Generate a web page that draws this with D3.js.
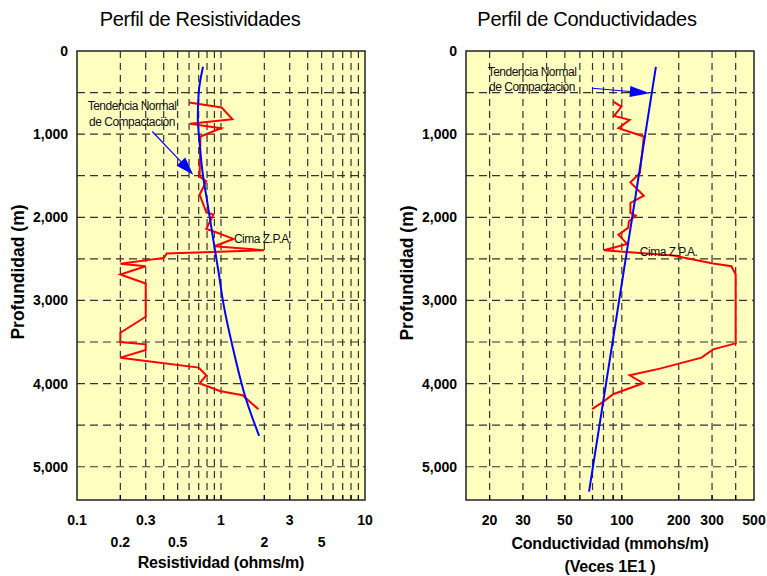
<!DOCTYPE html>
<html>
<head>
<meta charset="utf-8">
<script src="https://cdn.jsdelivr.net/npm/d3@7"></script>
<style>
  html, body { margin: 0; padding: 0; background: #ffffff; }
  svg { display: block; font-family: "Liberation Sans", Arial, sans-serif; }
</style>
</head>
<body>
<svg id="chart" width="767" height="576"></svg>
<script>
// ---- Resistivity log (depth in m, ohms/m) ----
const resDepth = [620, 680, 820, 876, 928, 1028, 1508, 1568, 1728, 1940, 1968, 2140, 2168, 2260, 2348, 2396, 2436, 2488, 2560, 2588, 2688, 2796, 3196, 3388, 3500, 3528, 3596, 3688, 3808, 3900, 3996, 4088, 4140, 4308];
const resValue = [0.60, 1.01, 1.20, 0.61, 1.00, 0.72, 0.71, 0.79, 0.71, 0.79, 0.885, 0.79, 0.885, 1.22, 0.90, 1.99, 0.42, 0.40, 0.20, 0.30, 0.20, 0.30, 0.30, 0.20, 0.20, 0.30, 0.30, 0.20, 0.70, 0.79, 0.71, 0.98, 1.41, 1.82];

// Normal compaction trend for resistivity
const resTrendDepth = [190, 500, 800, 1100, 1500, 1800, 2300, 2700, 3000, 3600, 4200, 4630];
const resTrendValue = [0.75, 0.70, 0.69, 0.71, 0.75, 0.80, 0.89, 0.97, 1.03, 1.22, 1.50, 1.84];

// ---- Conductivity log (depth in m, mmohs/m x 1E1) ----
const condDepth = [608, 668, 780, 828, 928, 1028, 1188, 1468, 1508, 1580, 1740, 1828, 1948, 1980, 2048, 2128, 2208, 2320, 2396, 2460, 2556, 2588, 2688, 3516, 3588, 3688, 3820, 3900, 3996, 4128, 4220, 4308];
const condValue = [90, 99.6, 91, 110, 96, 130.7, 128.6, 124.5, 119.6, 111, 130.7, 111, 111, 118.6, 109, 108, 96, 106.7, 80.3, 186.6, 304, 380, 400, 400, 304, 264, 159, 110, 129.7, 90, 79.6, 69.6];

// Normal compaction trend for conductivity
const condTrendDepth = [190, 5300];
const condTrendValue = [151.4, 67.1];

// ---- Axis ticks and labels ----
const depthLabels = [0, 1000, 2000, 3000, 4000, 5000];
const depthGrid = [500, 1000, 1500, 2000, 2500, 3000, 3500, 4000, 4500, 5000];
const resGrid = [0.2, 0.3, 0.4, 0.5, 0.6, 0.7, 0.8, 0.9, 1, 2, 3, 4, 5, 6, 7, 8, 9];
const resLabelsRow1 = [0.1, 0.3, 1, 3, 10];
const resLabelsRow2 = [0.2, 0.5, 2, 5];
const condGrid = [20, 30, 40, 50, 60, 70, 80, 90, 100, 200, 300, 400];
const condLabels = [20, 30, 50, 100, 200, 300, 500];

const svg = d3.select("#chart");
const fmtDepth = d3.format(",");

function drawPanel(p) {
  const g = svg.append("g");
  const x = d3.scaleLog().domain(p.xDomain).range([p.left, p.right]);
  const y = d3.scaleLinear().domain([0, 5400]).range([p.top, p.bottom]);

  // plot background
  g.append("rect")
    .attr("x", p.left).attr("y", p.top)
    .attr("width", p.right - p.left).attr("height", p.bottom - p.top)
    .attr("fill", "#ffffc0");

  // dashed grid
  g.append("g").selectAll("line").data(p.xGrid).join("line")
    .attr("x1", d => x(d)).attr("x2", d => x(d))
    .attr("y1", p.top).attr("y2", p.bottom)
    .attr("stroke", "#333").attr("stroke-width", 1.2)
    .attr("stroke-dasharray", "7,5");
  g.append("g").selectAll("line").data(depthGrid).join("line")
    .attr("x1", p.left).attr("x2", p.right)
    .attr("y1", d => y(d)).attr("y2", d => y(d))
    .attr("stroke", "#333").attr("stroke-width", 1.2)
    .attr("stroke-dasharray", "8,5");

  // bottom tick marks (inward)
  g.append("g").selectAll("line").data(p.xGrid).join("line")
    .attr("x1", d => x(d)).attr("x2", d => x(d))
    .attr("y1", p.bottom).attr("y2", p.bottom - 5)
    .attr("stroke", "#000").attr("stroke-width", 1.2);

  // curves
  const line = d3.line().x(d => x(d[1])).y(d => y(d[0]));
  const smooth = d3.line().x(d => x(d[1])).y(d => y(d[0])).curve(d3.curveMonotoneY);

  g.append("path")
    .datum(d3.zip(p.logDepth, p.logValue))
    .attr("d", line)
    .attr("fill", "none").attr("stroke", "#ff0000").attr("stroke-width", 2)
    .attr("stroke-linejoin", "miter");

  g.append("path")
    .datum(d3.zip(p.trendDepth, p.trendValue))
    .attr("d", smooth)
    .attr("fill", "none").attr("stroke", "#0000ff").attr("stroke-width", 2);

  // frame
  g.append("rect")
    .attr("x", p.left).attr("y", p.top)
    .attr("width", p.right - p.left).attr("height", p.bottom - p.top)
    .attr("fill", "none").attr("stroke", "#222").attr("stroke-width", 1.5);

  // depth labels
  g.append("g").selectAll("text").data(depthLabels).join("text")
    .attr("x", p.left - 9).attr("y", d => y(d) + 5)
    .attr("text-anchor", "end")
    .attr("font-size", 14).attr("font-weight", "bold")
    .text(d => fmtDepth(d));

  // depth title
  g.append("text")
    .attr("transform", `translate(${p.yTitleX},${p.yTitleY}) rotate(-90)`)
    .attr("text-anchor", "middle")
    .attr("font-size", 17.5).attr("font-weight", "bold")
    .text("Profundidad (m)");

  // panel title
  g.append("text")
    .attr("x", p.titleX).attr("y", 26)
    .attr("text-anchor", "middle")
    .attr("font-size", 20)
    .attr("letter-spacing", -0.3)
    .text(p.title);

  // annotation: normal trend
  const ann = g.append("g").attr("font-size", 12).attr("letter-spacing", -0.5).attr("fill", "#111");
  ann.append("text").attr("x", x(p.annX)).attr("y", y(p.annD1))
    .attr("text-anchor", "middle").text("Tendencia Normal");
  ann.append("text").attr("x", x(p.annX)).attr("y", y(p.annD2))
    .attr("text-anchor", "middle").text("de Compactaciòn");

  const ax0 = x(p.arrowFrom[1]), ay0 = y(p.arrowFrom[0]);
  const ax1 = x(p.arrowTo[1]), ay1 = y(p.arrowTo[0]);
  const ang = Math.atan2(ay1 - ay0, ax1 - ax0);
  const hl = p.headLen, hw = p.headW / 2;
  const bx = ax1 - hl * Math.cos(ang), by = ay1 - hl * Math.sin(ang);
  g.append("line")
    .attr("x1", ax0).attr("y1", ay0).attr("x2", bx).attr("y2", by)
    .attr("stroke", "#0000ff").attr("stroke-width", 1.2);
  g.append("path")
    .attr("d", `M${ax1},${ay1}L${bx - hw * Math.sin(ang)},${by + hw * Math.cos(ang)}L${bx + hw * Math.sin(ang)},${by - hw * Math.cos(ang)}Z`)
    .attr("fill", "#0000ff");

  // annotation: top of abnormal pressure zone
  ann.append("text").attr("x", x(p.cimaX)).attr("y", y(p.cimaD))
    .text("Cima Z.P.A.");

  return { g, x, y };
}

// Left panel: resistivity
const left = drawPanel({
  left: 77, right: 365, top: 51, bottom: 500,
  xDomain: [0.1, 10], xGrid: resGrid,
  logDepth: resDepth, logValue: resValue,
  trendDepth: resTrendDepth, trendValue: resTrendValue,
  title: "Perfil de Resistividades", titleX: 200,
  yTitleX: 24, yTitleY: 272,
  annX: 0.241, annD1: 708, annD2: 900,
  arrowFrom: [968, 0.333], arrowTo: [1488, 0.642], headLen: 18, headW: 12,
  cimaX: 1.23, cimaD: 2304
});

const fmtRes = d => String(d);
left.g.append("g").selectAll("text").data(resLabelsRow1).join("text")
  .attr("x", d => left.x(d)).attr("y", 525)
  .attr("text-anchor", "middle").attr("font-size", 14).attr("font-weight", "bold")
  .text(fmtRes);
left.g.append("g").selectAll("text").data(resLabelsRow2).join("text")
  .attr("x", d => left.x(d)).attr("y", 547)
  .attr("text-anchor", "middle").attr("font-size", 14).attr("font-weight", "bold")
  .text(fmtRes);
left.g.append("text")
  .attr("x", 221).attr("y", 568)
  .attr("text-anchor", "middle").attr("font-size", 16).attr("font-weight", "bold")
  .attr("letter-spacing", -0.2)
  .text("Resistividad (ohms/m)");

// Right panel: conductivity
const right = drawPanel({
  left: 466, right: 754, top: 51, bottom: 500,
  xDomain: [15, 500], xGrid: condGrid,
  logDepth: condDepth, logValue: condValue,
  trendDepth: condTrendDepth, trendValue: condTrendValue,
  title: "Perfil de Conductividades", titleX: 587,
  yTitleX: 413, yTitleY: 273,
  annX: 33.5, annD1: 300, annD2: 480,
  arrowFrom: [448, 70], arrowTo: [508, 140.6], headLen: 20, headW: 11,
  cimaX: 124.5, cimaD: 2460
});

right.g.append("g").selectAll("text").data(condLabels).join("text")
  .attr("x", d => right.x(d)).attr("y", 525)
  .attr("text-anchor", "middle").attr("font-size", 14).attr("font-weight", "bold")
  .text(d => String(d));
right.g.append("text")
  .attr("x", 610).attr("y", 549)
  .attr("text-anchor", "middle").attr("font-size", 16).attr("font-weight", "bold")
  .attr("letter-spacing", -0.2)
  .text("Conductividad (mmohs/m)");
right.g.append("text")
  .attr("x", 610).attr("y", 572)
  .attr("text-anchor", "middle").attr("font-size", 16).attr("font-weight", "bold")
  .attr("letter-spacing", -0.2)
  .text("(Veces 1E1 )");
</script>
</body>
</html>
